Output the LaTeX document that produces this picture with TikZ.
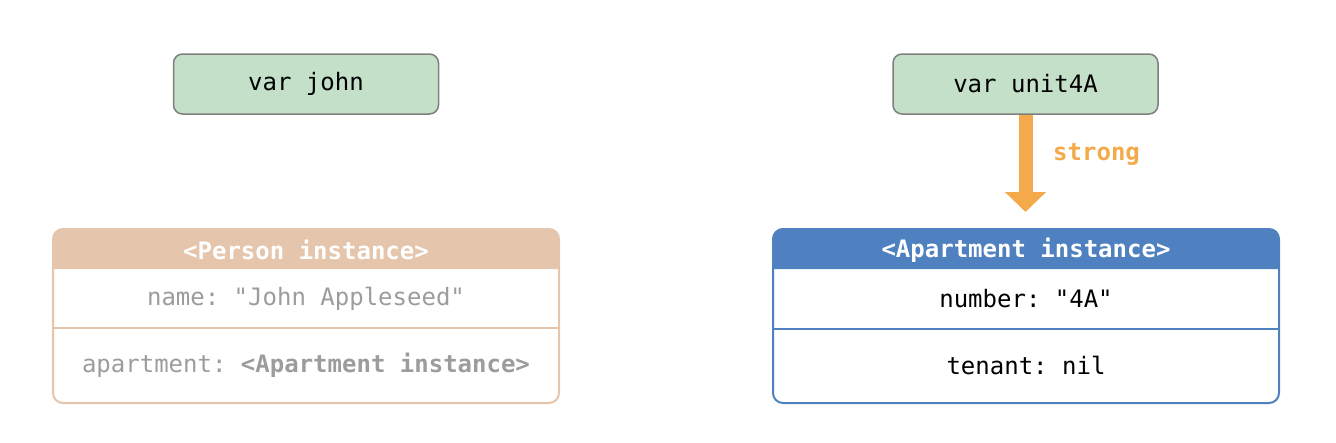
\documentclass[tikz,border=0pt]{standalone}
\usepackage{fontspec}
\setmonofont{DejaVu Sans Mono}
\usetikzlibrary{arrows.meta,calc}
\definecolor{varfill}{HTML}{C5E0C9}
\definecolor{vardraw}{HTML}{7F7F7F}
\definecolor{peach}{HTML}{E5C5AC}
\definecolor{apblue}{HTML}{4F80BF}
\definecolor{orng}{HTML}{F4A94A}
\definecolor{graytxt}{HTML}{9C9C9C}
\begin{document}
\begin{tikzpicture}[x=1pt,y=-1pt,
  every node/.style={font=\ttfamily\fontsize{24}{28}\selectfont, inner sep=0pt},
  varbox/.style={draw=vardraw, fill=varfill, line width=1.5pt, rounded corners=9pt, minimum width=265pt, minimum height=60pt},
  instbox/.style={draw=#1, line width=2pt, rounded corners=10pt, minimum width=506pt, minimum height=174pt},
  hdrtext/.style={text=white, font=\ttfamily\bfseries\fontsize{24}{28}\selectfont},
]
\useasboundingbox (0,0) rectangle (1336,442);
% variables
\node[varbox] (john) at (306,84) {var john};
\node[varbox] (unit) at (1025.5,84) {var unit4A};
% Person instance
\fill[peach] (53,269) [rounded corners=10pt] -- (53,229) -- (559,229) [sharp corners] -- (559,269) -- cycle;
\node[instbox=peach] (person) at (306,316) {};
\draw[peach, line width=1.5pt] (person.west |- 0,328) -- (person.east |- 0,328);
\node[hdrtext] (ph) at (306,250) {<Person instance>};
\node[text=graytxt] (pname) at (306,299) {name: "John Appleseed"};
\node[text=graytxt] (papt) at (306,365) {apartment: \textbf{<Apartment instance>}};
% Apartment instance
\fill[apblue] (773,269) [rounded corners=10pt] -- (773,229) -- (1279,229) [sharp corners] -- (1279,269) -- cycle;
\node[instbox=apblue] (apt) at (1026,316) {};
\draw[apblue, line width=1.5pt] (apt.west |- 0,329) -- (apt.east |- 0,329);
\node[hdrtext] (ah) at (1026,250) {<Apartment instance>};
\node (anum) at (1026,299) {number: "4A"};
\node (aten) at (1026,365) {tenant: nil};
% strong arrow
\draw[orng, line width=14pt, -{Triangle[width=40pt,length=20pt]}, shorten >=16pt] (unit.south) -- (unit.south |- apt.north);
\node[text=orng, font=\ttfamily\bfseries\fontsize{24}{28}\selectfont, anchor=west] (strong) at (1053,155) {strong};
\end{tikzpicture}
\end{document}
